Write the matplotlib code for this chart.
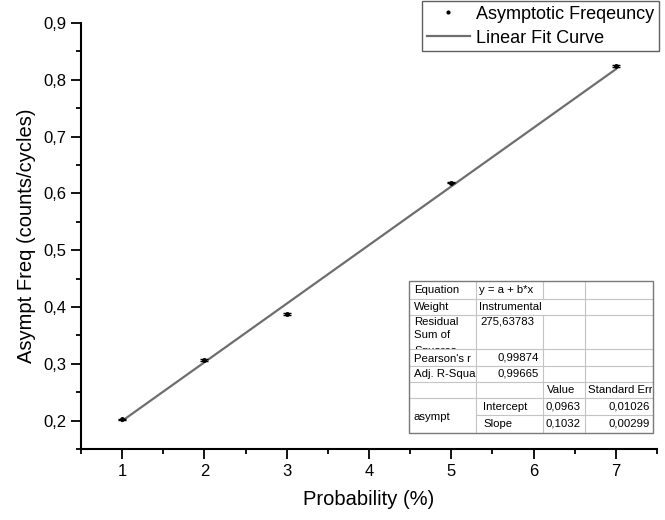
import matplotlib
matplotlib.use('Agg')
import matplotlib.pyplot as plt
from matplotlib.ticker import MultipleLocator, FuncFormatter
from matplotlib.lines import Line2D
from matplotlib.patches import Rectangle
from matplotlib.transforms import Bbox
import numpy as np

plt.rcParams['font.family'] = ['Liberation Sans', 'DejaVu Sans']

# ---- data ----
prob = [1, 2, 3, 5, 7]
freq = [0.202, 0.307, 0.388, 0.619, 0.824]
freq_err = [0.0015, 0.0015, 0.0015, 0.0015, 0.0015]
fit_a = 0.0963
fit_b = 0.1032
x_ticks = [1, 2, 3, 4, 5, 6, 7]
y_ticks = [0.2, 0.3, 0.4, 0.5, 0.6, 0.7, 0.8, 0.9]

W, H = 665, 520
fig = plt.figure(figsize=(W / 100, H / 100), dpi=100)
ax = fig.add_axes([81 / W, 1 - 449 / H, 576 / W, 426 / H])

xf = np.array([prob[0], prob[-1]], dtype=float)
ax.plot(xf, fit_a + fit_b * xf, color='#6e6e6e', lw=1.6, zorder=2)
ax.errorbar(prob, freq, yerr=freq_err, fmt='none', ecolor='black',
            elinewidth=1, capsize=3, capthick=1, zorder=3)
ax.plot(prob, freq, 'o', color='black', ms=2.5, zorder=4)

ax.set_xlim(0.5, 7.5)
ax.set_ylim(0.15, 0.9)
ax.set_xticks(x_ticks)
ax.set_yticks(y_ticks)
ax.xaxis.set_minor_locator(MultipleLocator(0.5))
ax.yaxis.set_minor_locator(MultipleLocator(0.05))
ax.xaxis.set_major_formatter(FuncFormatter(lambda v, p: f'{v:g}'))
ax.yaxis.set_major_formatter(FuncFormatter(lambda v, p: f'{v:.1f}'.replace('.', ',')))
for s in ['top', 'right']:
    ax.spines[s].set_visible(False)
for s in ['left', 'bottom']:
    ax.spines[s].set_linewidth(1.5)
ax.tick_params(which='major', direction='out', length=7, width=1.3, labelsize=12, pad=3.5)
ax.tick_params(which='minor', direction='out', length=3.5, width=1.3)
ax.set_xlabel('Probability (%)', fontsize=14.5, labelpad=8)
ax.set_ylabel('Asympt Freq (counts/cycles)', fontsize=14.5, labelpad=5)

# ---- legend ----
handles = [Line2D([], [], ls='none', marker='.', color='black', ms=4),
           Line2D([], [], color='#6e6e6e', lw=1.6)]
labels = ['Asymptotic Freqeuncy', 'Linear Fit Curve']
leg = fig.legend(handles, labels, loc='upper right', bbox_to_anchor=(659 / W, 1 - 1 / H),
                 fontsize=13, frameon=True, fancybox=False, borderaxespad=0,
                 handlelength=2.4, handletextpad=0.35, labelspacing=0.4, borderpad=0.25)
leg.get_frame().set_edgecolor('#606060')
leg.get_frame().set_linewidth(1.0)
leg.get_frame().set_alpha(1)

# ---- fit statistics table ----
ov = fig.add_axes([0, 0, 1, 1], zorder=5)
ov.set_xlim(0, W)
ov.set_ylim(H, 0)
ov.axis('off')

cols = [409, 476, 543, 585, 653]
rows = [281, 299, 315, 349, 366, 382, 398, 415, 433]
inner = '#c4c4c4'
outer = '#7a7a7a'
ov.add_patch(Rectangle((cols[0], rows[0]), cols[-1] - cols[0], rows[-1] - rows[0],
                       facecolor='white', edgecolor='none', zorder=1))
for r in rows[1:-1]:
    x0 = cols[1] if r == 415 else cols[0]
    ov.plot([x0, cols[-1]], [r, r], color=inner, lw=0.8, zorder=2)
for c in cols[1:-1]:
    if c == 543:
        ov.plot([c, c], [rows[0], rows[1]], color=inner, lw=0.8, zorder=2)
        ov.plot([c, c], [rows[2], rows[-1]], color=inner, lw=0.8, zorder=2)
    else:
        ov.plot([c, c], [rows[0], rows[-1]], color=inner, lw=0.8, zorder=2)
ov.add_patch(Rectangle((cols[0], rows[0]), cols[-1] - cols[0], rows[-1] - rows[0],
                       facecolor='none', edgecolor=outer, lw=1.0, zorder=3))

fs = 8.2


def cell(x, y, s, ha='left', clip=None):
    t = ov.text(x, y, s, ha=ha, va='center', fontsize=fs, zorder=4)
    if clip is not None:
        x0, y0, x1, y1 = clip
        t.set_clip_box(Bbox.from_extents(x0, H - y1, x1, H - y0))
        t.set_clip_on(True)
    return t


def mid(i):
    return (rows[i] + rows[i + 1]) / 2


cell(414, mid(0), 'Equation')
cell(479, mid(0), 'y = a + b*x')
cell(414, mid(1), 'Weight')
cell(479, mid(1), 'Instrumental')
res_clip = (cols[0], rows[2], cols[1], rows[3])
cell(414, 322, 'Residual', clip=res_clip)
cell(414, 335, 'Sum of', clip=res_clip)
cell(414, 351, 'Squares', clip=res_clip)
cell(480, 322, '275,63783')
cell(414, mid(3) + 1, "Pearson's r")
cell(539, mid(3), '0,99874', ha='right')
cell(414, mid(4), 'Adj. R-Squa')
cell(539, mid(4), '0,99665', ha='right')
cell(547, mid(5), 'Value')
cell(588, mid(5), 'Standard Error', clip=(cols[3], rows[5], cols[4] - 1, rows[6]))
cell(414, (rows[6] + rows[8]) / 2 + 1, 'asympt')
cell(483, mid(6), 'Intercept')
cell(546, mid(6), '0,0963')
cell(650, mid(6), '0,01026', ha='right')
cell(483, mid(7), 'Slope')
cell(546, mid(7), '0,1032')
cell(650, mid(7), '0,00299', ha='right')

fig.savefig('out.png', dpi=100)
